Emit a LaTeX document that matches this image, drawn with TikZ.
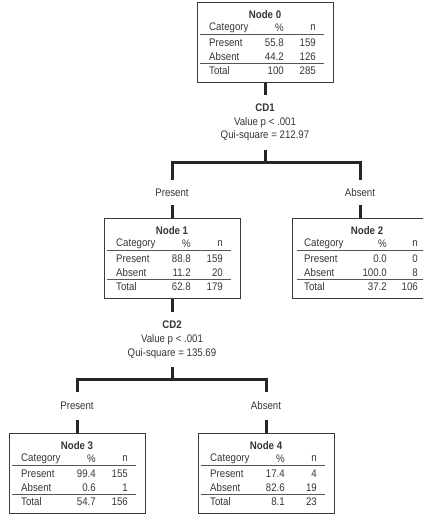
\documentclass[tikz,border=0pt]{standalone}
\usepackage{fontspec}
\setmainfont{Liberation Sans}[FakeStretch=0.88]

\definecolor{inkgray}{HTML}{363636}
\definecolor{framegray}{HTML}{3A3A3A}
\definecolor{rulegray}{HTML}{555555}
\definecolor{linkgray}{HTML}{262626}

\tikzset{
  statframe/.style={draw=framegray, line width=1.2pt, rectangle, inner sep=0pt, minimum height=80pt},
  celltext/.style={text=inkgray, font=\fontsize{11}{12}\selectfont, inner sep=0pt},
  boxtitle/.style={celltext, font=\fontsize{11}{12}\selectfont\bfseries},
  tablerule/.style={draw=rulegray, line width=0.9pt},
  splittext/.style={align=center, text=inkgray, font=\fontsize{11}{13.8}\selectfont, inner sep=0pt, minimum height=55pt},
  branchlabel/.style={text=inkgray, font=\fontsize{11}{12}\selectfont, inner sep=0pt},
  link/.style={draw=linkgray, line width=3pt, line join=miter}
}

% box width and column edges, relative to the left side of a box
\newcommand{\boxw}{136}
\newcommand{\pcol}{87}
\newcommand{\ncol}{119}
\newcommand{\rulel}{3}
\newcommand{\ruler}{127}

% #1 number, #2 left, #3 top, then % and n of Present, Absent, Total
\newcommand{\statbox}[9]{%
  \node[statframe, minimum width=\boxw*1pt, anchor=north west] (node#1) at (#2,#3) {};
  \node[boxtitle] (node#1-title) at ({#2+\boxw/2},{#3+13}) {Node #1};
  \node[celltext, anchor=west] (node#1-cat) at ({#2+12},{#3+26}) {Category};
  \node[celltext, anchor=east] (node#1-pct) at ({#2+\pcol},{#3+26}) {\%};
  \node[celltext, anchor=east] (node#1-n) at ({#2+\ncol},{#3+26}) {n};
  \draw[tablerule] ({#2+\rulel},{#3+32.5}) -- ({#2+\ruler},{#3+32.5});
  \node[celltext, anchor=west] (node#1-pres) at ({#2+12},{#3+41}) {Present};
  \node[celltext, anchor=east] (node#1-presp) at ({#2+\pcol},{#3+41}) {#4};
  \node[celltext, anchor=east] (node#1-presn) at ({#2+\ncol},{#3+41}) {#5};
  \node[celltext, anchor=west] (node#1-abs) at ({#2+12},{#3+55}) {Absent};
  \node[celltext, anchor=east] (node#1-absp) at ({#2+\pcol},{#3+55}) {#6};
  \node[celltext, anchor=east] (node#1-absn) at ({#2+\ncol},{#3+55}) {#7};
  \draw[tablerule] ({#2+\rulel},{#3+61.5}) -- ({#2+\ruler},{#3+61.5});
  \node[celltext, anchor=west] (node#1-tot) at ({#2+12},{#3+69}) {Total};
  \node[celltext, anchor=east] (node#1-totp) at ({#2+\pcol},{#3+69}) {#8};
  \node[celltext, anchor=east] (node#1-totn) at ({#2+\ncol},{#3+69}) {#9};
}

\begin{document}
\begin{tikzpicture}[x=1pt, y=-1pt]
  \useasboundingbox (0,0) rectangle (423,518);
  \fill[white] (0,0) rectangle (423,518);
  \clip (0,0) rectangle (423,518);

  % root
  \statbox{0}{197}{2}{55.8}{159}{44.2}{126}{100}{285}

  % first split
  \node[splittext] (cd1) at (265,122.5) {\textbf{CD1}\\Value p < .001\\Qui-square = 212.97};
  \coordinate (b1) at (265,163);
  \node[branchlabel, minimum height=25pt] (lp1) at (172,192.5) {Present};
  \node[branchlabel, minimum height=25pt] (la1) at (360,192.5) {Absent};

  \statbox{1}{104}{218}{88.8}{159}{11.2}{20}{62.8}{179}

  % second split
  \node[splittext] (cd2) at (172,339.5) {\textbf{CD2}\\Value p < .001\\Qui-square = 135.69};
  \coordinate (b2) at (172,379);
  \node[branchlabel, minimum height=27pt] (lp2) at (77,406) {Present};
  \node[branchlabel, minimum height=27pt] (la2) at (266,406) {Absent};

  % leaves
  \statbox{3}{9}{433}{99.4}{155}{0.6}{1}{54.7}{156}
  \statbox{4}{198}{433}{17.4}{4}{82.6}{19}{8.1}{23}

  % node 2 is wider and runs off the page
  \renewcommand{\boxw}{150}
  \renewcommand{\pcol}{95}
  \renewcommand{\ncol}{126}
  \renewcommand{\rulel}{5}
  \renewcommand{\ruler}{145}
  \statbox{2}{292}{218}{0.0}{0}{100.0}{8}{37.2}{106}

  % connectors
  \draw[link] (node0.south -| cd1.north) -- (cd1.north);
  \draw[link] (cd1.south) -- (b1);
  \draw[link] (lp1.north) |- (b1) -| (la1.north);
  \draw[link] (lp1.south) -- (lp1.south |- node1.north);
  \draw[link] (la1.south) -- (la1.south |- node2.north);

  \draw[link] (node1.south -| cd2.north) -- (cd2.north);
  \draw[link] (cd2.south) -- (b2);
  \draw[link] (lp2.north) |- (b2) -| (la2.north);
  \draw[link] (lp2.south) -- (lp2.south |- node3.north);
  \draw[link] (la2.south) -- (la2.south |- node4.north);
\end{tikzpicture}
\end{document}
